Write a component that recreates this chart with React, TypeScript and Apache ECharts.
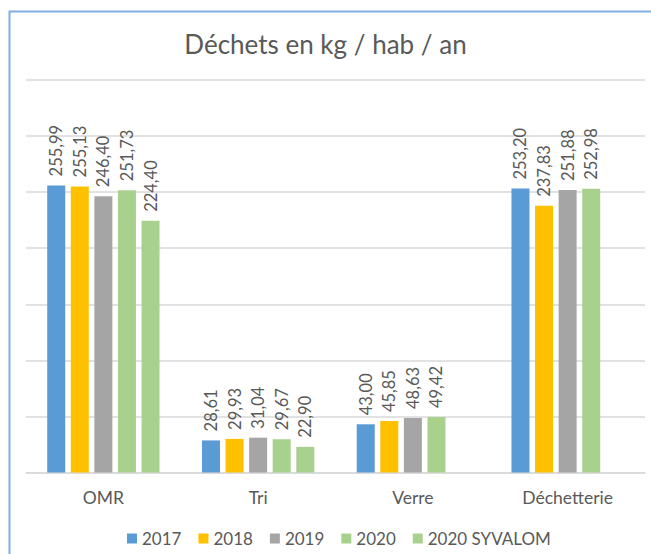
import React, { useEffect, useRef } from "react";
import * as echarts from "echarts";

const categories = ["OMR", "Tri", "Verre", "Déchetterie"];
const seriesNames = ["2017", "2018", "2019", "2020", "2020 SYVALOM"];
const values2017 = [255.99, 28.61, 43.0, 253.2];
const values2018 = [255.13, 29.93, 45.85, 237.83];
const values2019 = [246.4, 31.04, 48.63, 251.88];
const values2020 = [251.73, 29.67, 49.42, 252.98];
const values2020Syvalom = [224.4, 22.9, null, null];
const colors = ["#5B9BD5", "#FFC000", "#A5A5A5", "#A9D18E", "#A9D18E"];

const FONT = "Lato";

export default function App() {
  const ref = useRef<HTMLDivElement>(null);
  useEffect(() => {
    if (!ref.current) return;
    const chart = echarts.init(ref.current, undefined, { renderer: "svg" });
    const allValues = [values2017, values2018, values2019, values2020, values2020Syvalom];
    chart.setOption({
      animation: false,
      backgroundColor: "#ffffff",
      textStyle: { fontFamily: FONT },
      title: {
        text: "Déchets en kg / hab / an",
        left: "center",
        top: 26,
        textStyle: { fontFamily: FONT, fontSize: 26, fontWeight: "normal", color: "#595959" },
      },
      graphic: [
        {
          type: "rect",
          shape: { x: 9.5, y: 11.5, width: 700, height: 700 },
          style: { fill: "none", stroke: "#7FAEE0", lineWidth: 2 },
          silent: true,
        },
      ],
      legend: {
        top: 525,
        left: 122,
        icon: "rect",
        itemWidth: 10,
        itemHeight: 10,
        itemGap: 17,
        textStyle: { fontFamily: FONT, fontSize: 17, color: "#595959" },
        data: seriesNames,
      },
      grid: { left: 26, right: 6, top: 80, bottom: 81.5, containLabel: false },
      xAxis: {
        type: "category",
        data: categories,
        axisLine: { lineStyle: { color: "#D9D9D9", width: 1.5 } },
        axisTick: { show: false },
        axisLabel: { fontFamily: FONT, fontSize: 17.5, color: "#595959", margin: 16 },
      },
      yAxis: {
        type: "value",
        min: 0,
        max: 350,
        interval: 50,
        axisLabel: { show: false },
        axisLine: { show: false },
        axisTick: { show: false },
        splitLine: { lineStyle: { color: "#D9D9D9", width: 1.5 } },
      },
      series: seriesNames.map((name, i) => ({
        name,
        type: "bar",
        data: allValues[i],
        barWidth: 18,
        barGap: "31%",
        itemStyle: { color: colors[i] },
        label: {
          show: true,
          position: "top",
          rotate: 90,
          align: "left",
          verticalAlign: "middle",
          distance: 9,
          fontFamily: FONT,
          fontSize: 16.5,
          color: "#595959",
          formatter: (p: any) => (p.value == null ? "" : Number(p.value).toFixed(2).replace(".", ",")),
        },
      })),
    });
    return () => chart.dispose();
  }, []);
  return (
    <div
      ref={ref}
      style={{ position: "absolute", left: 0, top: 0, width: 651, height: 554 }}
    />
  );
}
